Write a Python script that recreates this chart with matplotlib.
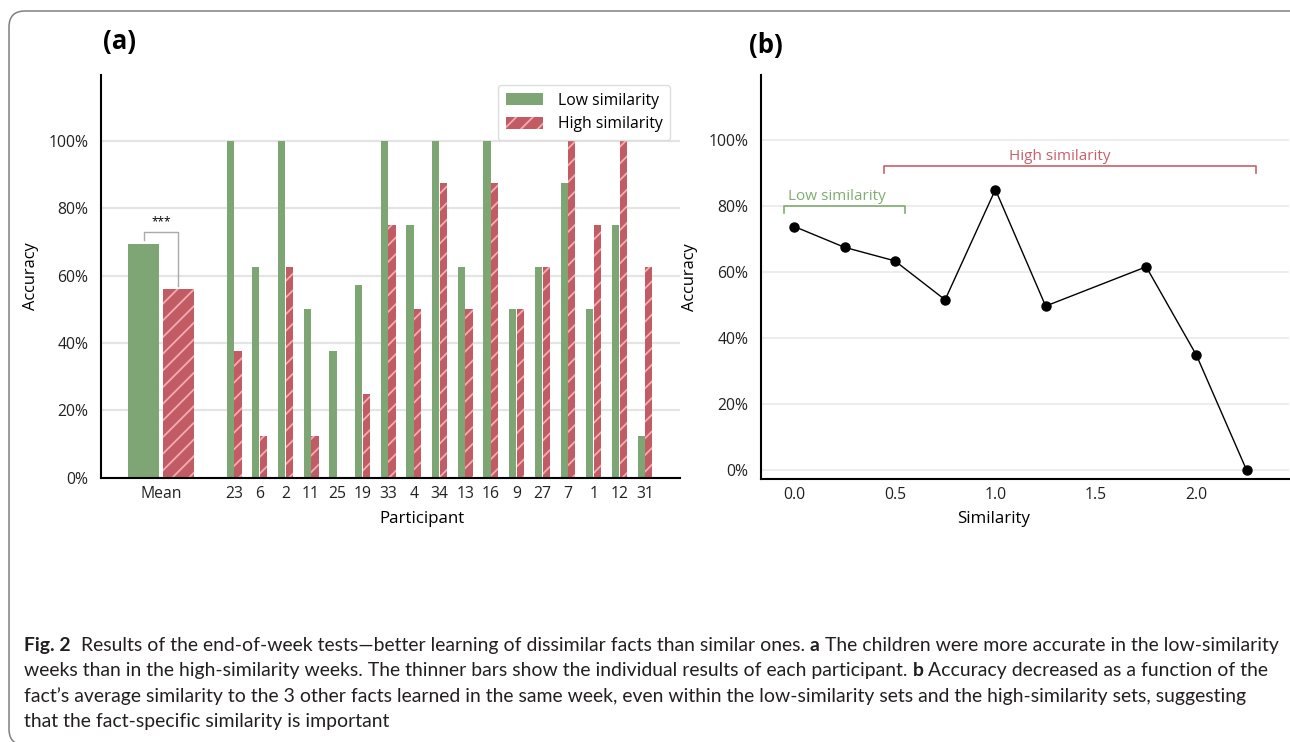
import numpy as np
import matplotlib.pyplot as plt
from matplotlib.patches import Patch, FancyBboxPatch
from matplotlib.transforms import IdentityTransform

# (a) end-of-week accuracy per participant
participants = ["23", "6", "2", "11", "25", "19", "33", "4", "34",
                "13", "16", "9", "27", "7", "1", "12", "31"]
low_acc = [1.0, 0.625, 1.0, 0.5, 0.375, 0.571, 1.0, 0.75, 1.0,
           0.625, 1.0, 0.5, 0.625, 0.875, 0.5, 0.75, 0.125]
high_acc = [0.375, 0.125, 0.625, 0.125, 0.0, 0.25, 0.75, 0.5, 0.875,
            0.5, 0.875, 0.5, 0.625, 1.0, 0.75, 1.0, 0.625]
mean_low = 0.695
mean_high = 0.559

# (b) accuracy vs fact similarity
similarity = [0.0, 0.25, 0.5, 0.75, 1.0, 1.25, 1.75, 2.0, 2.25]
sim_acc = [0.739, 0.676, 0.635, 0.517, 0.851, 0.498, 0.617, 0.349, 0.0]

GREEN = "#7ea674"
RED = "#c15c64"
PINK = "#f6aab2"
GREEN_TXT = "#7fae70"
RED_TXT = "#c9606a"
GRID = "#e4e4e4"
FONT = "Open Sans"

plt.rcParams["font.family"] = [FONT, "DejaVu Sans"]
plt.rcParams["hatch.linewidth"] = 1.3

fig = plt.figure(figsize=(12.9, 7.42), dpi=100)
ax1 = fig.add_axes([0.0783, 0.3562, 0.4488, 0.5427])
ax2 = fig.add_axes([0.5897, 0.3544, 0.4095, 0.5445])


def style_axes(ax):
    for s in ["top", "right"]:
        ax.spines[s].set_visible(False)
    for s in ["left", "bottom"]:
        ax.spines[s].set_linewidth(1.5)
        ax.spines[s].set_color("black")
    ax.set_axisbelow(True)
    ax.yaxis.grid(True, color=GRID, lw=1.6)
    ax.tick_params(length=0, labelsize=11.3, labelcolor="#222222")
    ax.tick_params(axis="y", pad=9)
    ax.tick_params(axis="x", pad=6)
    ax.set_yticks(np.arange(0, 1.01, 0.2))
    ax.set_yticklabels([f"{int(round(v * 100))}%" for v in np.arange(0, 1.01, 0.2)])


# ---- panel (a)
x = np.arange(len(participants))
mean_x = -2.84
ax1.bar(x - 0.15, low_acc, 0.28, color=GREEN)
ax1.bar(x + 0.15, high_acc, 0.28, color=RED, edgecolor=PINK, linewidth=0, hatch="//")
ax1.bar(mean_x - 0.67, mean_low, 1.2, color=GREEN)
ax1.bar(mean_x + 0.67, mean_high, 1.2, color=RED, edgecolor=PINK, linewidth=0, hatch="//")

ax1.plot([mean_x - 0.67, mean_x - 0.67, mean_x + 0.67, mean_x + 0.67],
         [mean_low + 0.01, 0.731, 0.731, mean_high + 0.009], color="#aaaaaa", lw=1)
ax1.text(mean_x, 0.742, "***", ha="center", va="bottom", fontsize=8.5)

style_axes(ax1)
ax1.set_xlim(-5.18, 17.36)
ax1.set_ylim(0, 1.196)
ax1.set_xticks([mean_x] + list(x))
ax1.set_xticklabels(["Mean"] + participants)
ax1.set_xlabel("Participant", fontsize=12.2)
ax1.xaxis.set_label_coords(0.554, -0.083)
ax1.set_ylabel("Accuracy", fontsize=11.8)
ax1.yaxis.set_label_coords(-0.107, 0.5)

handles = [Patch(facecolor=GREEN),
           Patch(facecolor=RED, edgecolor=PINK, linewidth=0, hatch="//")]
leg = ax1.legend(handles, ["Low similarity", "High similarity"], loc="upper right",
                 bbox_to_anchor=(0.983, 0.975), borderaxespad=0, fontsize=11.3,
                 handlelength=2.4, handleheight=0.8, handletextpad=0.9,
                 framealpha=1, edgecolor="#dddddd", borderpad=0.5, labelspacing=0.45)

# ---- panel (b)
ax2.plot(similarity, sim_acc, color="black", lw=1, marker="o", ms=6.5)
style_axes(ax2)
ax2.yaxis.grid(True, color="#ececec", lw=1.3)
ax2.set_xlim(-0.167, 2.46)
ax2.set_ylim(-0.026, 1.198)
ax2.set_xticks([0.0, 0.5, 1.0, 1.5, 2.0])
ax2.set_xticklabels(["0.0", "0.5", "1.0", "1.5", "2.0"])
ax2.set_xlabel("Similarity", fontsize=12.2)
ax2.xaxis.set_label_coords(0.44, -0.08)
ax2.set_ylabel("Accuracy", fontsize=11.8)
ax2.yaxis.set_label_coords(-0.119, 0.5)

ax2.plot([-0.05, -0.05, 0.552, 0.552], [0.78, 0.80, 0.80, 0.78], color=GREEN_TXT, lw=1.2)
ax2.text(-0.03, 0.806, "Low similarity", color=GREEN_TXT, fontsize=11, va="bottom")
ax2.plot([0.448, 0.448, 2.297, 2.297], [0.90, 0.922, 0.922, 0.90], color=RED_TXT, lw=1.2)
ax2.text(1.32, 0.928, "High similarity", color=RED_TXT, fontsize=11, va="bottom", ha="center")

# panel letters
fig.text(119 / 1290, 1 - 41 / 742, "(a)", fontsize=18.5, fontweight="bold", ha="center", va="center")
fig.text(766 / 1290, 1 - 45 / 742, "(b)", fontsize=18.5, fontweight="bold", ha="center", va="center")

# frame around the figure
frame = FancyBboxPatch((9, -3), 1300, 734, boxstyle="round,pad=0,rounding_size=16",
                       transform=IdentityTransform(), fill=False, edgecolor="#808080", lw=1.1)
fig.patches.append(frame)

# ---- caption
cap_lines = [
    [("Fig. 2", True), ("  Results of the end-of-week tests\u2014better learning of dissimilar facts than similar ones. ", False),
     ("a", True), (" The children were more accurate in the low-similarity", False)],
    [("weeks than in the high-similarity weeks. The thinner bars show the individual results of each participant. ", False),
     ("b", True), (" Accuracy decreased as a function of the", False)],
    [("fact\u2019s average similarity to the 3 other facts learned in the same week, even within the low-similarity sets and the high-similarity sets, suggesting", False)],
    [("that the fact-specific similarity is important", False)],
]
cap_font = ["Lato", "DejaVu Sans"]
cap_texts = []
first_line = []
for i, line in enumerate(cap_lines):
    prev = None
    for txt, bold in line:
        w = "bold" if bold else "normal"
        if prev is None:
            t = fig.text(24 / 1290, (88 - i * 25.3) / 742, txt, fontsize=12.5, fontweight=w,
                         va="bottom", ha="left", family=cap_font, color="#231f20")
        else:
            t = ax1.annotate(txt, xy=(1, 0), xycoords=prev, va="bottom", ha="left",
                             fontsize=12.5, fontweight=w, family=cap_font, color="#231f20",
                             annotation_clip=False)
        cap_texts.append(t)
        if i == 0:
            first_line.append(t)
        prev = t

# fit caption width to the first line (24 px .. 1280 px)
fig.canvas.draw()
r = fig.canvas.get_renderer()
width = first_line[-1].get_window_extent(r).x1 - first_line[0].get_window_extent(r).x0
scale = 1256 / width
for t in cap_texts:
    t.set_fontsize(12.5 * scale)

fig.savefig("out.png", dpi=100)
